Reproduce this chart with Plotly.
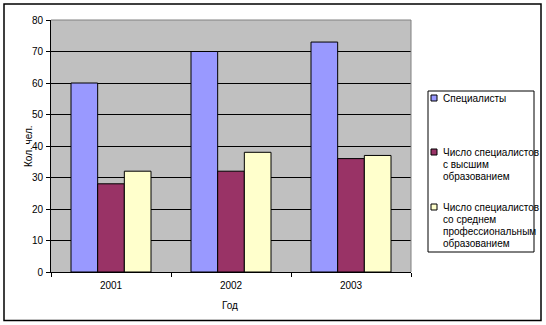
import plotly.graph_objects as go

years = ["2001", "2002", "2003"]
series_names = [
    "Специалисты",
    "Число специалистов<br>с высшим<br>образованием",
    "Число специалистов<br>со среднем<br>профессиональным<br>образованием",
]
specialists = [60, 70, 73]
higher_edu = [28, 32, 36]
secondary_edu = [32, 38, 37]
series_values = [specialists, higher_edu, secondary_edu]
colors = ["#9999FF", "#993366", "#FFFFCC"]
y_ticks = [0, 10, 20, 30, 40, 50, 60, 70, 80]
y_title = "Кол. чел."
x_title = "Год"

W, H = 546, 325
L, R, T, B = 51, 411, 20, 272  # plot area in pixels


def px(x):
    return (x - L) / (R - L)


def py(y):
    return (B - y) / (B - T)


FONT = "Arial, Liberation Sans, sans-serif"

fig = go.Figure()
for name, vals, col in zip(series_names, series_values, colors):
    fig.add_trace(go.Bar(
        x=years, y=vals, name=name.replace("<br>", " "),
        marker=dict(color=col, line=dict(color="black", width=1)),
        showlegend=False,
    ))

shapes = []
# outer border
shapes.append(dict(type="rect", xref="paper", yref="paper",
                   x0=px(4), x1=px(541), y0=py(320.5), y1=py(4),
                   line=dict(color="black", width=1.5), fillcolor="rgba(0,0,0,0)"))
# plot area top/right grey border
shapes.append(dict(type="line", xref="paper", yref="paper",
                   x0=0, x1=1, y0=1, y1=1, line=dict(color="#808080", width=1)))
shapes.append(dict(type="line", xref="paper", yref="paper",
                   x0=1, x1=1, y0=0, y1=1, line=dict(color="#808080", width=1)))
# legend box
shapes.append(dict(type="rect", xref="paper", yref="paper",
                   x0=px(428), x1=px(534), y0=py(252), y1=py(91),
                   line=dict(color="black", width=1), fillcolor="white"))

annotations = []
item_tops = [98, 152, 207]
line_h = 12.3
for name, col, ytop in zip(series_names, colors, item_tops):
    shapes.append(dict(type="rect", xref="paper", yref="paper",
                       x0=px(431), x1=px(437), y0=py(ytop + 3), y1=py(ytop - 3),
                       line=dict(color="black", width=1), fillcolor=col))
    for i, line in enumerate(name.split("<br>")):
        annotations.append(dict(
            xref="paper", yref="paper", x=px(440.5), y=py(ytop + i * line_h),
            xanchor="left", yanchor="middle", text=line, showarrow=False,
            font=dict(family=FONT, size=10, color="black"),
        ))

annotations.append(dict(xref="paper", yref="paper", x=px(28), y=py(146),
                        text=y_title, textangle=-90, showarrow=False,
                        xanchor="center", yanchor="middle",
                        font=dict(family=FONT, size=10, color="black")))
annotations.append(dict(xref="paper", yref="paper", x=px(230), y=py(305),
                        text=x_title, showarrow=False,
                        xanchor="center", yanchor="middle",
                        font=dict(family=FONT, size=10, color="black")))

fig.update_layout(
    width=W, height=H,
    margin=dict(l=L, r=W - R, t=T, b=H - B, pad=0),
    paper_bgcolor="white",
    plot_bgcolor="#C0C0C0",
    barmode="group",
    bargap=1 / 3,
    bargroupgap=0,
    font=dict(family=FONT, size=10, color="black"),
    shapes=shapes,
    annotations=annotations,
    showlegend=False,
)
fig.update_xaxes(
    type="category", showline=True, linecolor="black", linewidth=1,
    ticks="outside", tickson="boundaries", ticklen=4, tickcolor="black",
    showgrid=False, zeroline=False, tickfont=dict(size=10),
    ticklabelstandoff=4,
)
fig.update_yaxes(
    range=[0, 80], tickvals=y_ticks, showline=True, linecolor="black", linewidth=1,
    ticks="outside", ticklen=4, tickcolor="black",
    showgrid=True, gridcolor="black", gridwidth=1, zeroline=False,
    tickfont=dict(size=10), ticklabelstandoff=1,
)
fig.write_html("out.html")
